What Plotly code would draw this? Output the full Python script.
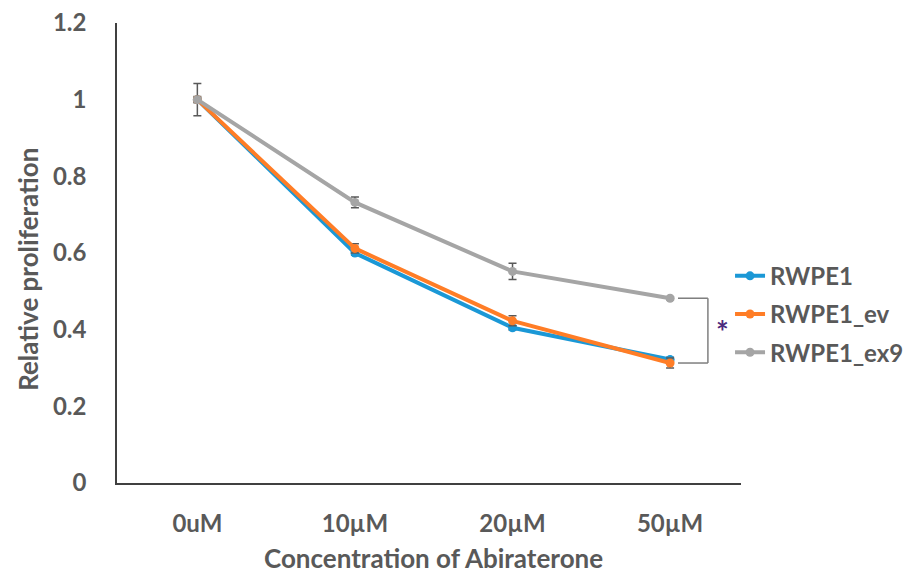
import plotly.graph_objects as go

categories = ["0uM", "10µM", "20µM", "50µM"]
rwpe1 = [1.0, 0.600, 0.405, 0.322]
rwpe1_err = [0.005, 0.006, 0.006, 0.006]
rwpe1_ev = [1.0, 0.612, 0.423, 0.313]
rwpe1_ev_err = [0.008, 0.012, 0.013, 0.013]
rwpe1_ex9 = [1.0, 0.732, 0.552, 0.482]
rwpe1_ex9_err = [0.042, 0.014, 0.021, 0.004]

series = [
    ("RWPE1", rwpe1, rwpe1_err, "#1b98d6"),
    ("RWPE1_ev", rwpe1_ev, rwpe1_ev_err, "#ff7d26"),
    ("RWPE1_ex9", rwpe1_ex9, rwpe1_ex9_err, "#a5a5a5"),
]

TXT = "#595959"
FONT = "Lato"
FS = 26

fig = go.Figure()
xs = list(range(len(categories)))
for name, vals, errs, col in series:
    fig.add_trace(go.Scatter(
        x=xs, y=vals, name=name, mode="lines+markers", legendgroup=name,
        line=dict(color=col, width=4),
        marker=dict(color=col, size=9),
        error_y=dict(type="data", array=errs, visible=True, color="#595959", thickness=1.5, width=4),
    ))

# significance bracket between RWPE1_ex9 and RWPE1_ev at 50µM
xb0, xb1 = 3.05, 3.24
ytop, ybot = rwpe1_ex9[3], rwpe1_ev[3]
for x0, y0, x1, y1 in [(xb0, ytop, xb1, ytop), (xb1, ytop, xb1, ybot), (xb0, ybot, xb1, ybot)]:
    fig.add_shape(type="line", x0=x0, y0=y0, x1=x1, y1=y1, xref="x", yref="y",
                  line=dict(color="#7f7f7f", width=1.5))
fig.add_annotation(x=3.33, y=(ytop + ybot) / 2, xref="x", yref="y", text="*", showarrow=False,
                   font=dict(family=FONT, size=30, color="#4b2a7d", weight="bold"))

fig.add_annotation(x=0.508, y=-0.163, xref="paper", yref="paper", text="Concentration of Abiraterone",
                   showarrow=False, yanchor="middle",
                   font=dict(family=FONT, size=FS, color=TXT, weight="bold"))
fig.add_annotation(x=-0.143, y=0.465, xref="paper", yref="paper", text="Relative proliferation",
                   showarrow=False, textangle=-90, xanchor="center", yanchor="middle",
                   font=dict(family=FONT, size=FS, color=TXT, weight="bold"))

fig.update_layout(
    width=908, height=574,
    margin=dict(l=117, r=167, t=23, b=91, autoexpand=False),
    plot_bgcolor="white", paper_bgcolor="white",
    font=dict(family=FONT, size=FS - 2, color=TXT, weight="bold"),
    showlegend=True,
    legend=dict(x=0.804, y=0.558, xref="container", yref="container", xanchor="left", yanchor="top",
                bgcolor="rgba(0,0,0,0)", traceorder="grouped",
                font=dict(family=FONT, size=24, color=TXT, weight="bold"),
                itemwidth=30, tracegroupgap=4),
)
fig.update_xaxes(
    tickmode="array", tickvals=xs, ticktext=categories, range=[-0.51, 3.45],
    showline=True, linecolor="#404040", linewidth=1.5, showgrid=False, zeroline=False,
    ticks="", ticklabelstandoff=18,
)
fig.update_yaxes(
    range=[0, 1.2], tickvals=[0, 0.2, 0.4, 0.6, 0.8, 1.0, 1.2],
    ticktext=["0", "0.2", "0.4", "0.6", "0.8", "1", "1.2"],
    showline=True, linecolor="#404040", linewidth=1.5, showgrid=False, zeroline=False,
    ticks="", ticklabelstandoff=24,
)
fig.write_html("out.html")
